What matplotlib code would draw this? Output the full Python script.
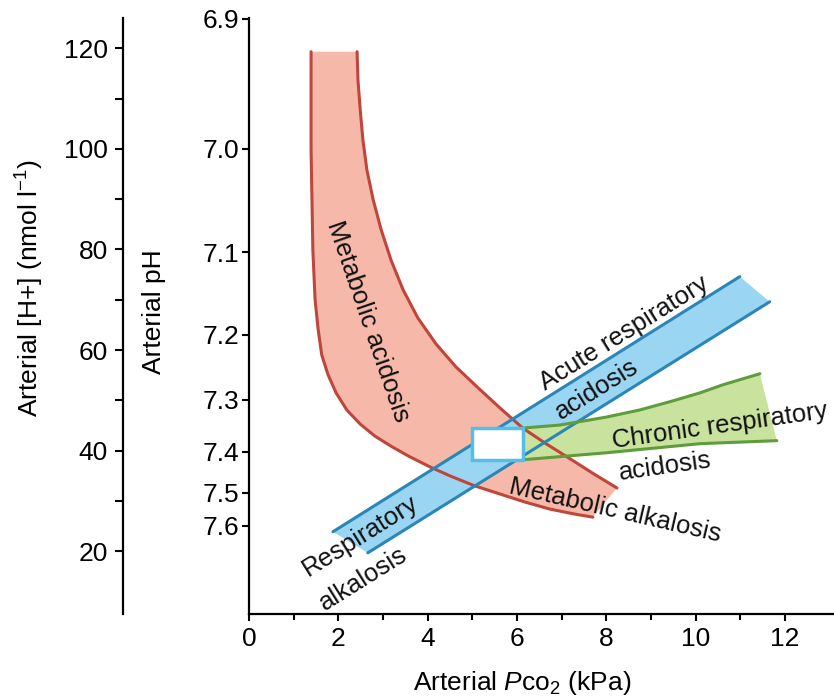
import numpy as np
import matplotlib
matplotlib.use('Agg')
import matplotlib.pyplot as plt
from matplotlib.patches import Rectangle

plt.rcParams['font.family'] = ['Liberation Sans', 'DejaVu Sans']
plt.rcParams['mathtext.fontset'] = 'custom'
plt.rcParams['mathtext.rm'] = 'Liberation Sans'
plt.rcParams['mathtext.it'] = 'Liberation Sans:italic'

# axis ticks
pco2_major = [0, 2, 4, 6, 8, 10, 12]
pco2_minor = [1, 3, 5, 7, 9, 11]
h_major = [20, 40, 60, 80, 100, 120]
h_minor = [30, 50, 70, 90, 110]
ph_values = [6.9, 7.0, 7.1, 7.2, 7.3, 7.4, 7.5, 7.6]

# metabolic acidosis / alkalosis band (Pco2 kPa, [H+] nmol/l)
met_left_pco2 = [1.39, 1.39, 1.39, 1.41, 1.43, 1.48, 1.55, 1.63, 1.77, 1.95, 2.19, 2.49, 2.82,
                 3.20, 3.60, 4.05, 4.50, 5.06, 5.62, 6.18, 6.74, 7.30, 7.70]
met_left_h = [119.3, 109.7, 99.8, 89.9, 79.9, 70.0, 64.0, 59.0, 55.1, 51.5, 48.1, 45.3, 42.9,
              40.8, 38.8, 36.8, 35.0, 33.0, 31.4, 29.8, 28.4, 27.4, 26.8]
met_right_pco2 = [2.42, 2.44, 2.49, 2.55, 2.64, 2.78, 2.96, 3.18, 3.45, 3.78, 4.19, 4.63, 5.13,
                  5.62, 6.13, 6.65, 7.19, 7.72, 8.24]
met_right_h = [119.3, 113.7, 107.8, 101.8, 95.8, 89.9, 83.9, 77.9, 72.0, 66.4, 61.2, 56.7, 52.5,
               48.5, 44.5, 41.4, 38.4, 35.4, 32.6]

# acute respiratory band
acute_upper_pco2 = [1.88, 10.99]
acute_upper_h = [23.9, 74.6]
acute_lower_pco2 = [2.66, 11.66]
acute_lower_h = [19.7, 69.6]

# chronic respiratory band
chronic_upper_pco2 = [6.13, 6.96, 8.01, 8.75, 9.49, 10.10, 10.61, 11.44]
chronic_upper_h = [44.5, 45.1, 46.7, 48.1, 49.9, 51.5, 53.1, 55.3]
chronic_lower_pco2 = [6.13, 8.01, 10.10, 11.82]
chronic_lower_h = [38.2, 39.6, 41.4, 42.0]

# normal range
normal_pco2 = [4.99, 6.13]
normal_h = [38.2, 44.5]

red_fill, red_line = '#f6b9a9', '#c0453a'
blue_fill, blue_line = '#9ad6f1', '#2a86b8'
green_fill, green_line = '#c9e39f', '#5e9d3c'

fig = plt.figure(figsize=(8.34, 6.97), dpi=100)
ax = fig.add_axes([249 / 834, 83 / 697, 585 / 834, 596 / 697])
ax.set_xlim(0, 13.1)
ax.set_ylim(7.55, 126.0)

# filled regions
ax.fill(np.r_[met_left_pco2, met_right_pco2[::-1]], np.r_[met_left_h, met_right_h[::-1]],
        color=red_fill, lw=0, zorder=1)
ax.fill(np.r_[acute_upper_pco2, acute_lower_pco2[::-1]], np.r_[acute_upper_h, acute_lower_h[::-1]],
        color=blue_fill, lw=0, zorder=2)
ax.fill(np.r_[chronic_upper_pco2, chronic_lower_pco2[::-1]], np.r_[chronic_upper_h, chronic_lower_h[::-1]],
        color=green_fill, lw=0, zorder=3)

# outlines
line = dict(lw=2.2, zorder=4, solid_joinstyle='round', solid_capstyle='round')
ax.plot(met_left_pco2, met_left_h, color=red_line, **line)
ax.plot(met_right_pco2, met_right_h, color=red_line, **line)
ax.plot(acute_upper_pco2, acute_upper_h, color=blue_line, **line)
ax.plot(acute_lower_pco2, acute_lower_h, color=blue_line, **line)
ax.plot(chronic_upper_pco2, chronic_upper_h, color=green_line, **line)
ax.plot(chronic_lower_pco2, chronic_lower_h, color=green_line, **line)

ax.add_patch(Rectangle((normal_pco2[0], normal_h[0]), normal_pco2[1] - normal_pco2[0],
                       normal_h[1] - normal_h[0], facecolor='white', edgecolor='#55bde8',
                       lw=2.5, zorder=5))

# region labels
lab = dict(fontsize=18.5, color='#111111', rotation_mode='anchor', zorder=6)
ax.text(2.66, 65.6, 'Metabolic acidosis', rotation=-71, ha='center', va='center', **lab)
ax.text(6.63, 51.9, 'Acute respiratory', rotation=32, ha='left', va='baseline', **lab)
ax.text(6.98, 46.1, 'acidosis', rotation=32, ha='left', va='baseline', **lab)
ax.text(8.15, 40.6, 'Chronic respiratory', rotation=8, ha='left', va='baseline', **lab)
ax.text(8.30, 34.2, 'acidosis', rotation=8, ha='left', va='baseline', **lab)
ax.text(5.80, 31.6, 'Metabolic alkalosis', rotation=-13, ha='left', va='baseline', **lab)
ax.text(1.32, 14.9, 'Respiratory', rotation=32, ha='left', va='baseline', **lab)
ax.text(1.70, 8.15, 'alkalosis', rotation=32, ha='left', va='baseline', **lab)

# pH axis (main left spine)
for s in ['top', 'right']:
    ax.spines[s].set_visible(False)
for s in ['left', 'bottom']:
    ax.spines[s].set_linewidth(1.6)
ax.set_yticks([10 ** (9 - p) for p in ph_values])
ax.set_yticklabels(['%.1f' % p for p in ph_values])
ax.set_xticks(pco2_major)
ax.set_xticks(pco2_minor, minor=True)
ax.tick_params(axis='y', direction='out', length=5, width=1.5, labelsize=19, pad=2)
ax.tick_params(axis='x', which='major', direction='out', length=5, width=1.5, labelsize=19, pad=4)
ax.tick_params(axis='x', which='minor', direction='out', length=4, width=1.5)

# [H+] axis
ax_h = ax.twinx()
ax_h.set_ylim(ax.get_ylim())
for s in ['top', 'right', 'bottom']:
    ax_h.spines[s].set_visible(False)
ax_h.spines['left'].set_visible(True)
ax_h.spines['left'].set_position(('outward', 90.7))
ax_h.spines['left'].set_linewidth(1.6)
ax_h.yaxis.set_ticks_position('left')
ax_h.set_yticks(h_major)
ax_h.set_yticks(h_minor, minor=True)
ax_h.tick_params(axis='y', which='both', direction='out', length=6, width=1.5, labelsize=19, pad=5)

fig.text(30 / 834, 1 - 288 / 697, r'Arterial [H+] (nmol l$^{-1}$)', rotation=90,
         ha='center', va='center', fontsize=19)
fig.text(154 / 834, 1 - 312 / 697, 'Arterial pH', rotation=90, ha='center', va='center', fontsize=19)
fig.text(522 / 834, 1 - 683 / 697, r'Arterial $\mathit{P}\mathrm{co}_2$ (kPa)', ha='center',
         va='center', fontsize=19)

fig.savefig('out.png', dpi=100)
